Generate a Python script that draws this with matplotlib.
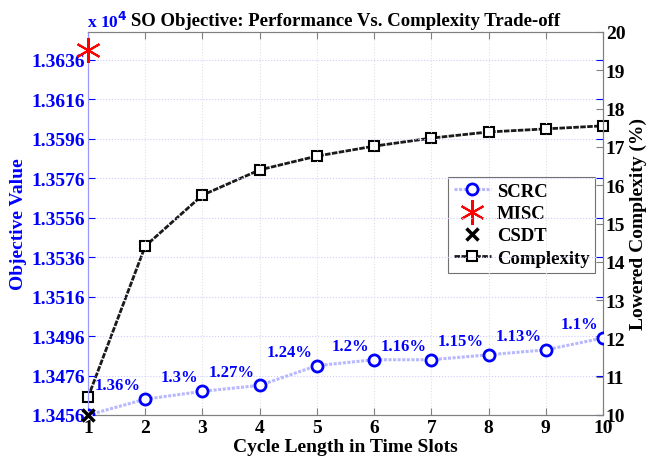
import matplotlib.pyplot as plt
import numpy as np

plt.rcParams['font.family'] = ['Liberation Serif', 'DejaVu Serif']
plt.rcParams['font.weight'] = 'bold'

# ====== data ======
cycle = [1, 2, 3, 4, 5, 6, 7, 8, 9, 10]
scrc = [13456, 13464, 13468, 13471, 13481, 13484, 13484, 13486.5, 13489, 13495]
misc_x = [1]
misc = [13641]
csdt_x = [1]
csdt = [13456]
complexity = [10.46, 14.41, 15.74, 16.40, 16.76, 17.02, 17.23, 17.39, 17.47, 17.55]
gap_labels = ['1.36%', '1.3%', '1.27%', '1.24%', '1.2%', '1.16%', '1.15%', '1.13%', '1.1%']

left_ticks = [13456, 13476, 13496, 13516, 13536, 13556, 13576, 13596, 13616, 13636]

fig = plt.figure(figsize=(6.49, 4.64), dpi=100)
ax = fig.add_axes([88 / 649, 48 / 464, 515 / 649, 383 / 464])
ax2 = ax.twinx()

blue = (0, 0, 1)
l1, = ax.plot(cycle, scrc, linestyle=(0, (1, 0.5)), color=(0.72, 0.72, 1), lw=2.2,
              marker='o', mec=blue, mfc='white', mew=2, ms=8, label='SCRC', zorder=4)
l2, = ax.plot(misc_x, misc, linestyle='none', marker=(6, 2, 0), color='red',
              mew=1.5, ms=18, label='MISC', clip_on=False, zorder=5)
l3, = ax.plot(csdt_x, csdt, linestyle='none', marker='x', color='black',
              mew=2.5, ms=9, label='CSDT', clip_on=False, zorder=5)
l4, = ax2.plot(cycle, complexity, linestyle=(0, (2, 0.5)), color='0.1', lw=2,
               marker='s', mec='black', mfc='white', mew=1.5, ms=7, label='Complexity',
               clip_on=False)

# percentage labels
for x, y, s in zip(cycle[1:], scrc[1:], gap_labels):
    ax.text(x - 0.08, y + 7, s, color=blue, fontsize=12, fontweight='bold',
            ha='right', va='center', zorder=6)

ax.set_xlim(1, 10)
ax.set_ylim(13456, 13650)
ax2.set_ylim(10, 20)
ax.set_xticks(cycle)
ax.set_yticks(left_ticks)
ax.set_yticklabels(['%.4f' % (t / 1e4) for t in left_ticks])
ax2.set_yticks(range(10, 21))

ax.tick_params(axis='y', colors=blue, labelsize=14, direction='in', length=5,
               right=True, pad=2)
ax.tick_params(axis='x', labelsize=14, direction='in', length=5, top=True,
               colors='0.5', labelcolor='black', pad=3)
ax2.tick_params(axis='y', labelsize=14, direction='in', length=5, colors='0.5',
                labelcolor='black', pad=2)
for lab in ax.get_xticklabels() + ax.get_yticklabels() + ax2.get_yticklabels():
    lab.set_fontweight('bold')

ax.grid(True, axis='x', color='0.88', linestyle=':', lw=0.8)
ax.grid(True, axis='y', color=(0.8, 0.8, 1), linestyle=':', lw=0.8)

ax.spines['left'].set_color((0.6, 0.6, 1))
ax2.spines['left'].set_color((0.6, 0.6, 1))
for sp in ['top', 'right', 'bottom']:
    ax.spines[sp].set_color('0.5')
    ax2.spines[sp].set_color('0.5')

ax.set_xlabel('Cycle Length in Time Slots', fontsize=14, fontweight='bold', labelpad=1)
ax.set_ylabel('Objective Value', fontsize=14, fontweight='bold', color=blue, labelpad=3)
ax2.set_ylabel('Lowered Complexity (%)', fontsize=14, fontweight='bold', labelpad=3)

ax.set_title('SO Objective: Performance Vs. Complexity Trade-off', fontsize=13.5,
             fontweight='bold', pad=5)
fig.text(87 / 649, 442 / 464, r'x 10$^{\mathbf{4}}$', color=blue, fontsize=12.5,
         fontweight='bold', ha='left', va='center')

leg = ax2.legend([l1, l2, l3, l4], ['SCRC', 'MISC', 'CSDT', 'Complexity'],
                 loc='upper left', bbox_to_anchor=(448 / 649, 286 / 464),
                 bbox_transform=fig.transFigure, fontsize=13.5, frameon=True,
                 fancybox=False, edgecolor='0.3', borderpad=0.3, labelspacing=0.28,
                 handlelength=2, handletextpad=0.3, borderaxespad=0)
leg.get_frame().set_linewidth(0.8)
for t in leg.get_texts():
    t.set_fontweight('bold')

ax.set_zorder(ax2.get_zorder() + 1)
ax.patch.set_visible(False)

fig.savefig('out.png', dpi=100, facecolor='white')
